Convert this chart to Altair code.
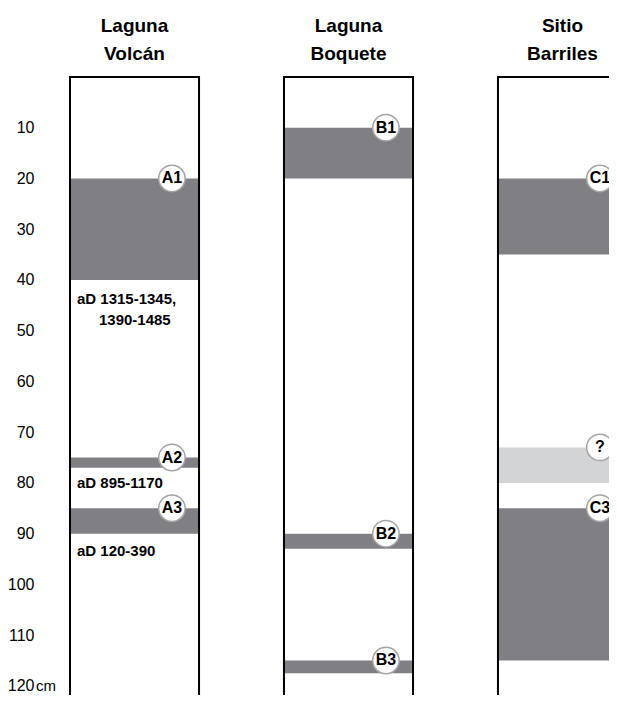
import altair as alt
import pandas as pd

FONT = "Liberation Sans, Arial, sans-serif"

sites = ["Laguna Volcán", "Laguna Boquete", "Sitio Barriles"]
site_titles = ["Laguna\nVolcán", "Laguna\nBoquete", "Sitio\nBarriles"]

band_site = ["Laguna Volcán"] * 3 + ["Laguna Boquete"] * 3 + ["Sitio Barriles"] * 3
band_top = [20, 75, 85, 10, 90, 115, 20, 73, 85]
band_bottom = [40, 77, 90, 20, 93, 117.5, 35, 80, 115]
band_label = ["A1", "A2", "A3", "B1", "B2", "B3", "C1", "?", "C3"]
band_kind = ["dated"] * 7 + ["uncertain", "dated"]

note_site = ["Laguna Volcán", "Laguna Volcán", "Laguna Volcán"]
note_depth = [43.8, 80.1, 93.5]
note_text = ["aD 1315-1345,", "aD 895-1170", "aD 120-390"]
note2_site = ["Laguna Volcán"]
note2_depth = [47.9]
note2_text = ["1390-1485"]

depth_ticks = [10, 20, 30, 40, 50, 60, 70, 80, 90, 100, 110, 120]
depth_max = 121.8
box_bottom = 130

bands = pd.DataFrame({"site": band_site, "top": band_top, "bottom": band_bottom,
                      "label": band_label, "kind": band_kind})
boxes = pd.DataFrame({"site": sites, "top": [0] * 3, "bottom": [box_bottom] * 3, "title": site_titles})
notes = pd.DataFrame({"site": note_site, "depth": note_depth, "text": note_text})
notes2 = pd.DataFrame({"site": note2_site, "depth": note2_depth, "text": note2_text})
unit = pd.DataFrame({"depth": [120], "text": ["cm"]})

xs = alt.Scale(domain=sites, range=[0, 557], paddingInner=0.397, paddingOuter=0)
ys = alt.Scale(domain=[0, depth_max], reverse=True, nice=False, zero=False)

yaxis = alt.Axis(values=depth_ticks, domain=False, ticks=False, tickSize=0, grid=False,
                 labelPadding=36, labelFont=FONT, labelFontSize=16, labelColor="black",
                 title=None)

band_layer = alt.Chart(bands).mark_rect().encode(
    x=alt.X("site:N", scale=xs, axis=None),
    y=alt.Y("top:Q", scale=ys, axis=yaxis),
    y2="bottom:Q",
    color=alt.Color("kind:N", scale=alt.Scale(domain=["dated", "uncertain"],
                                              range=["#808084", "#d3d4d6"]), legend=None),
)

box_layer = alt.Chart(boxes).mark_rect(filled=False, stroke="black", strokeWidth=2).encode(
    x=alt.X("site:N", scale=xs, axis=None),
    y=alt.Y("top:Q", scale=ys),
    y2="bottom:Q",
)

circle_layer = alt.Chart(bands).mark_circle(size=700, fill="white", opacity=1,
                                            stroke="#a5a5a7", strokeWidth=1.5).encode(
    x=alt.X("site:N", scale=xs, axis=None, bandPosition=0.79),
    y=alt.Y("top:Q", scale=ys),
)

circle_text = alt.Chart(bands).mark_text(font=FONT, fontSize=16, fontWeight="bold",
                                         color="black", baseline="middle", align="center").encode(
    x=alt.X("site:N", scale=xs, axis=None, bandPosition=0.79),
    y=alt.Y("top:Q", scale=ys),
    text="label:N",
)

note_layer = alt.Chart(notes).mark_text(font=FONT, fontSize=15, fontWeight="bold",
                                        color="black", baseline="middle", align="left").encode(
    x=alt.X("site:N", scale=xs, axis=None, bandPosition=0.054),
    y=alt.Y("depth:Q", scale=ys),
    text="text:N",
)

note2_layer = alt.Chart(notes2).mark_text(font=FONT, fontSize=15, fontWeight="bold", dx=22,
                                          color="black", baseline="middle", align="left").encode(
    x=alt.X("site:N", scale=xs, axis=None, bandPosition=0.054),
    y=alt.Y("depth:Q", scale=ys),
    text="text:N",
)

title_layer = alt.Chart(boxes).mark_text(font=FONT, fontSize=19, fontWeight="bold", color="black",
                                         align="center", baseline="alphabetic",
                                         lineBreak="\n", lineHeight=28).encode(
    x=alt.X("site:N", scale=xs, axis=None, bandPosition=0.5),
    y=alt.value(-45),
    text="title:N",
)

unit_layer = alt.Chart(unit).mark_text(font=FONT, fontSize=15, color="black",
                                       align="left", baseline="middle").encode(
    x=alt.value(-34),
    y=alt.Y("depth:Q", scale=ys),
    text="text:N",
)

chart = alt.layer(
    band_layer, box_layer, circle_layer, circle_text, note_layer, note2_layer, title_layer, unit_layer
).properties(
    width=539, height=618,
    autosize=alt.AutoSizeParams(type="none"),
    padding={"left": 62, "top": 69, "right": 0, "bottom": 0},
).configure(background="white").configure_view(stroke=None)

chart.save("out.html", embed_options={"renderer": "svg", "actions": False})
